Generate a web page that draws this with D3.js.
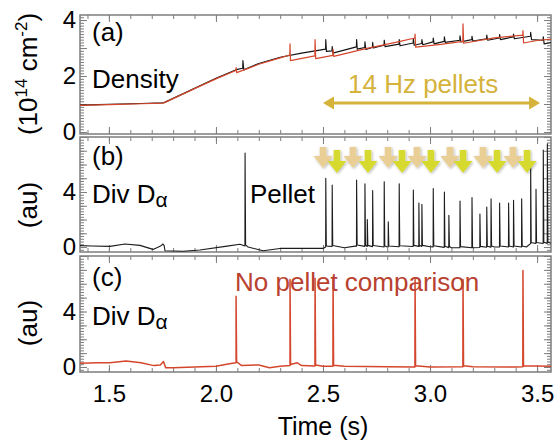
<!DOCTYPE html>
<html>
<head>
<meta charset="utf-8">
<script src="https://cdn.jsdelivr.net/npm/d3@7"></script>
<style>
  body { margin: 0; background: #fff; }
  svg { display: block; }
  text { font-family: Arial, "Liberation Sans", sans-serif; }
</style>
</head>
<body>
<svg id="chart" width="560" height="441"></svg>
<script>
// ---- time axis ----
const timeDomain = [1.365, 3.565];
const timeTickLabels = [1.5, 2.0, 2.5, 3.0, 3.5];

// ---- (a) line-averaged density, 10^14 cm^-2 ----
const densityTickLabels = [0, 2, 4];
const densityWithPellets = [
  [1.365,0.96],[1.45,0.98],[1.55,1.0],[1.65,1.02],[1.75,1.04],[1.76,1.06],[1.9,1.56],[2.0,1.92],
  [2.1,2.24],[2.125,2.28],[2.126,2.55],[2.13,2.22],[2.2,2.45],[2.3,2.67],[2.4,2.82],
  [2.512,2.96],[2.513,3.3],[2.516,2.88],[2.542,2.9],[2.543,3.05],[2.546,2.82],
  [2.656,3.04],[2.657,3.3],[2.66,2.96],[2.695,3.02],[2.696,3.22],[2.7,2.95],
  [2.731,3.02],[2.732,3.2],[2.735,3.0],[2.785,3.1],[2.786,3.28],[2.79,3.05],
  [2.855,3.14],[2.856,3.3],[2.86,3.08],[2.921,3.18],[2.922,3.34],[2.926,3.1],
  [2.961,3.16],[2.962,3.3],[2.966,3.12],[3.014,3.22],[3.015,3.36],[3.019,3.15],
  [3.066,3.24],[3.067,3.4],[3.071,3.2],[3.139,3.28],[3.14,3.44],[3.144,3.22],
  [3.195,3.3],[3.196,3.42],[3.2,3.25],[3.264,3.33],[3.265,3.46],[3.269,3.28],
  [3.324,3.36],[3.325,3.48],[3.329,3.3],[3.389,3.4],[3.39,3.5],[3.394,3.33],
  [3.469,3.42],[3.47,3.56],[3.474,3.3],[3.528,3.28],[3.529,3.4],[3.533,3.15],[3.565,3.2]
];
const densityNoPellets = [
  [1.365,0.95],[1.45,0.97],[1.55,0.99],[1.65,1.01],[1.75,1.03],[1.76,1.05],[1.9,1.55],[2.0,1.9],
  [2.093,2.2],[2.094,2.3],[2.097,2.12],[2.2,2.42],[2.3,2.65],
  [2.345,2.75],[2.346,3.15],[2.348,2.55],[2.462,2.72],[2.463,3.3],[2.466,2.62],
  [2.546,2.74],[2.547,2.95],[2.55,2.7],[2.7,2.98],[2.85,3.22],
  [2.929,3.36],[2.93,3.5],[2.933,3.03],[3.05,3.13],[3.153,3.24],[3.154,3.86],[3.157,3.17],
  [3.3,3.36],[3.433,3.46],[3.434,3.62],[3.437,3.18],[3.5,3.27],[3.565,3.32]
];

// ---- (b) divertor D-alpha with pellets, au ----
const dalphaTickLabels = [0, 4];
const divPelletBase = [
  [1.365,0.1],[1.42,0.08],[1.505,0.05],[1.575,0.22],[1.645,0.12],[1.706,-0.17],[1.739,0.05],
  [1.753,0.22],[1.758,0.1],[1.762,-0.27],[1.846,-0.3],[1.925,-0.22],[2.052,0.07],[2.112,0.2],
  [2.15,0.0],[2.22,-0.27],[2.299,-0.1],[2.5,-0.1],[2.52,0.07],[2.6,-0.05],[2.65,0.07],
  [2.8,0.0],[2.95,0.05],[3.0,0.02],[3.1,-0.05],[3.2,-0.05],[3.3,0.0],[3.45,0.0],[3.47,0.25],[3.565,0.27]
];
const divPelletSpikes = [
  [2.136,6.84],[2.513,5.0],[2.543,4.5],[2.657,4.87],[2.696,4.6],[2.707,2.0],[2.732,4.1],
  [2.786,4.75],[2.805,1.84],[2.856,4.6],[2.922,4.15],[2.948,3.2],[2.962,3.1],[3.015,4.25],
  [3.067,4.0],[3.088,2.3],[3.140,3.35],[3.196,3.6],[3.233,2.4],[3.265,2.9],[3.285,3.5],
  [3.325,3.2],[3.367,3.2],[3.390,3.4],[3.428,3.5],[3.470,6.0],[3.495,4.2],[3.529,7.05],[3.548,7.5]
];

// ---- (c) divertor D-alpha without pellets, au ----
const divRefBase = [
  [1.365,0.27],[1.45,0.3],[1.505,0.3],[1.58,0.44],[1.65,0.3],[1.71,0.1],[1.74,0.15],[1.755,0.4],
  [1.765,-0.05],[1.8,-0.05],[1.9,0.0],[2.0,0.05],[2.07,0.25],[2.094,0.3],[2.12,0.1],[2.2,0.15],
  [2.25,-0.05],[2.3,0.05],[2.346,0.1],[2.38,0.3],[2.4,0.1],[2.5,0.05],[2.6,0.05],[2.8,0.02],
  [3.0,0.0],[3.2,0.02],[3.4,0.0],[3.565,0.05]
];
const divRefSpikes = [
  [2.094,5.1],[2.346,6.3],[2.463,6.4],[2.547,6.3],[2.930,6.3],[3.154,6.3],[3.434,6.95]
];

// ---- pellet injection markers ----
const pelletWindow = [2.5, 3.514];
const pelletsTan = [2.500, 2.640, 2.804, 2.939, 3.093, 3.247, 3.387];
const pelletsYellow = [2.565, 2.710, 2.869, 3.004, 3.154, 3.313, 3.453];

// ---------------------------------------------------------------
const svg = d3.select("#chart");
const plotLeft = 80, plotRight = 551;
const x = d3.scaleLinear().domain(timeDomain).range([plotLeft, plotRight]);

const frameColor = "#7d7d7d";
const black = "#141414";
const red = "#d4472c";
const redText = "#b9412f";
const gold = "#d5b23a";

const defs = svg.append("defs");
const glow = defs.append("filter").attr("id", "arrowShadow")
  .attr("x", "-50%").attr("y", "-50%").attr("width", "200%").attr("height", "200%");
glow.append("feGaussianBlur").attr("in", "SourceAlpha").attr("stdDeviation", 1.4).attr("result", "blur");
glow.append("feOffset").attr("in", "blur").attr("dx", 1).attr("dy", 1.2).attr("result", "off");
glow.append("feComponentTransfer").attr("in", "off").attr("result", "soft")
  .append("feFuncA").attr("type", "linear").attr("slope", 0.3);
const merge = glow.append("feMerge");
merge.append("feMergeNode").attr("in", "soft");
merge.append("feMergeNode").attr("in", "SourceGraphic");

const panels = [
  { id: "a", top: 15, bottom: 134, domain: [-0.07, 4.18], minorStep: 0.1, minorCount: 42, minorStart: 0, majorMax: 4, labels: densityTickLabels },
  { id: "b", top: 137, bottom: 252, domain: [-0.36, 8.0], minorStep: 0.2, minorCount: 42, minorStart: -0.2, majorMax: 8, labels: dalphaTickLabels },
  { id: "c", top: 256, bottom: 372, domain: [-0.36, 8.0], minorStep: 0.2, minorCount: 42, minorStart: -0.2, majorMax: 8, labels: dalphaTickLabels }
];

const minorTimes = d3.range(14, 36).map(i => i / 10);

function styleAxis(g) {
  g.select(".domain").remove();
  g.selectAll(".tick line").attr("stroke", frameColor).attr("stroke-width", 1);
}

panels.forEach(p => {
  p.y = d3.scaleLinear().domain(p.domain).range([p.bottom, p.top]);
  const g = svg.append("g");
  const minorY = d3.range(p.minorCount).map(i => +(p.minorStart + i * p.minorStep).toFixed(2))
    .filter(v => v >= p.domain[0] && v <= p.domain[1]);
  const majorY = d3.range(0, p.majorMax + 1);

  // time ticks on bottom and top edges (inward)
  g.append("g").attr("transform", `translate(0,${p.bottom})`)
    .call(d3.axisBottom(x).tickValues(minorTimes).tickSize(-4).tickFormat("")).call(styleAxis);
  g.append("g").attr("transform", `translate(0,${p.bottom})`)
    .call(d3.axisBottom(x).tickValues(timeTickLabels).tickSize(-7).tickFormat("")).call(styleAxis);
  g.append("g").attr("transform", `translate(0,${p.top})`)
    .call(d3.axisTop(x).tickValues(minorTimes).tickSize(-4).tickFormat("")).call(styleAxis);
  g.append("g").attr("transform", `translate(0,${p.top})`)
    .call(d3.axisTop(x).tickValues(timeTickLabels).tickSize(-7).tickFormat("")).call(styleAxis);

  // value ticks on left and right edges (inward)
  g.append("g").attr("transform", `translate(${plotLeft},0)`)
    .call(d3.axisLeft(p.y).tickValues(minorY).tickSize(-4).tickFormat("")).call(styleAxis);
  g.append("g").attr("transform", `translate(${plotLeft},0)`)
    .call(d3.axisLeft(p.y).tickValues(majorY).tickSize(-7).tickFormat("")).call(styleAxis);
  g.append("g").attr("transform", `translate(${plotRight},0)`)
    .call(d3.axisRight(p.y).tickValues(minorY).tickSize(-4).tickFormat("")).call(styleAxis);
  g.append("g").attr("transform", `translate(${plotRight},0)`)
    .call(d3.axisRight(p.y).tickValues(majorY).tickSize(-7).tickFormat("")).call(styleAxis);

  // value labels
  const lab = g.append("g").attr("transform", `translate(${plotLeft},0)`)
    .call(d3.axisLeft(p.y).tickValues(p.labels).tickSize(0).tickPadding(4).tickFormat(d3.format("d")));
  lab.select(".domain").remove();
  lab.selectAll("text").attr("font-size", 24).attr("fill", "#000")
    .attr("font-family", 'Arial, "Liberation Sans", sans-serif');

  // frame
  g.append("rect").attr("x", plotLeft).attr("y", p.top)
    .attr("width", plotRight - plotLeft).attr("height", p.bottom - p.top)
    .attr("fill", "none").attr("stroke", frameColor).attr("stroke-width", 1.5);

  defs.append("clipPath").attr("id", "clip-" + p.id).append("rect")
    .attr("x", plotLeft).attr("y", p.top).attr("width", plotRight - plotLeft).attr("height", p.bottom - p.top);
});

// time labels under the bottom panel
const pc = panels[2];
const tl = svg.append("g").attr("transform", `translate(0,${pc.bottom})`)
  .call(d3.axisBottom(x).tickValues(timeTickLabels).tickSize(0).tickPadding(13).tickFormat(d3.format(".1f")));
tl.select(".domain").remove();
tl.selectAll("text").attr("font-size", 24).attr("fill", "#000")
  .attr("font-family", 'Arial, "Liberation Sans", sans-serif');

svg.append("text").attr("x", 323).attr("y", 435).attr("text-anchor", "middle")
  .attr("font-size", 25).text("Time (s)");

// merge a smooth trace with narrow spikes sitting on it
function withSpikes(base, spikes) {
  const baseAt = d3.scaleLinear().domain(base.map(d => d[0])).range(base.map(d => d[1]));
  const pts = base.slice();
  spikes.forEach(([t, peak]) => {
    const b = baseAt(t);
    pts.push([t - 0.0006, b], [t, peak], [t + 0.0025, b + 0.08]);
  });
  return pts.sort((a, b) => a[0] - b[0]);
}

function trace(p, data, color, width) {
  const line = d3.line().x(d => x(d[0])).y(d => p.y(d[1]));
  svg.append("path").datum(data)
    .attr("clip-path", `url(#clip-${p.id})`)
    .attr("d", line).attr("fill", "none")
    .attr("stroke", color).attr("stroke-width", width).attr("stroke-linejoin", "round");
}

trace(panels[0], densityWithPellets, black, 1.15);
trace(panels[0], densityNoPellets, red, 1.2);
trace(panels[1], withSpikes(divPelletBase, divPelletSpikes), "#1c1c1c", 1.1);
trace(panels[2], withSpikes(divRefBase, divRefSpikes), red, 1.5);

// y titles
function yTitle(cy, build) {
  const t = svg.append("text").attr("transform", `translate(37,${cy}) rotate(-90)`)
    .attr("text-anchor", "middle").attr("font-size", 26);
  build(t);
}
yTitle(74, t => {
  t.append("tspan").text("(10");
  t.append("tspan").attr("font-size", 17).attr("dy", -10).text("14");
  t.append("tspan").attr("dy", 10).text(" cm");
  t.append("tspan").attr("font-size", 17).attr("dy", -10).text("-2");
  t.append("tspan").attr("dy", 10).text(")");
});
yTitle(205, t => t.text("(au)"));
yTitle(323, t => t.text("(au)"));

// panel annotations
function label(xp, yp, txt, color) {
  return svg.append("text").attr("x", xp).attr("y", yp).attr("font-size", 26)
    .attr("fill", color || "#000").text(txt);
}
label(92, 41, "(a)");
label(92, 88, "Density");
label(92, 165, "(b)");
label(250, 203, "Pellet");
label(92, 286, "(c)");
label(235, 291, "No pellet comparison", redText);
[203, 325].forEach(yb => {
  const t = label(92, yb, "Div D");
  t.append("tspan").attr("font-size", 21).attr("dy", 4).text("\u03b1");
});

// 14 Hz pellet window
svg.append("text").attr("x", 348).attr("y", 93).attr("font-size", 26).attr("fill", gold).text("14 Hz pellets");
const ay = 103, x0 = x(pelletWindow[0]), x1 = x(pelletWindow[1]);
svg.append("line").attr("x1", x0 + 6).attr("x2", x1 - 6).attr("y1", ay).attr("y2", ay)
  .attr("stroke", gold).attr("stroke-width", 3);
svg.append("path").attr("d", `M${x0},${ay} L${x0 + 11},${ay - 6.5} L${x0 + 11},${ay + 6.5} Z`).attr("fill", gold);
svg.append("path").attr("d", `M${x1},${ay} L${x1 - 11},${ay - 6.5} L${x1 - 11},${ay + 6.5} Z`).attr("fill", gold);

// pellet injection arrows
function downArrow(cx, top, len, color) {
  const sw = 3.3, hw = 9.5, hh = 12;
  const hy = top + len - hh;
  const d = `M${cx - sw},${top} L${cx + sw},${top} L${cx + sw},${hy} L${cx + hw},${hy} L${cx},${top + len} L${cx - hw},${hy} L${cx - sw},${hy} Z`;
  svg.append("path").attr("d", d).attr("fill", color).attr("filter", "url(#arrowShadow)");
}
pelletsTan.forEach(t => downArrow(x(t), 147, 21, "#e9cf95"));
pelletsYellow.forEach(t => downArrow(x(t), 150, 23, "#d7da2e"));
</script>
</body>
</html>
